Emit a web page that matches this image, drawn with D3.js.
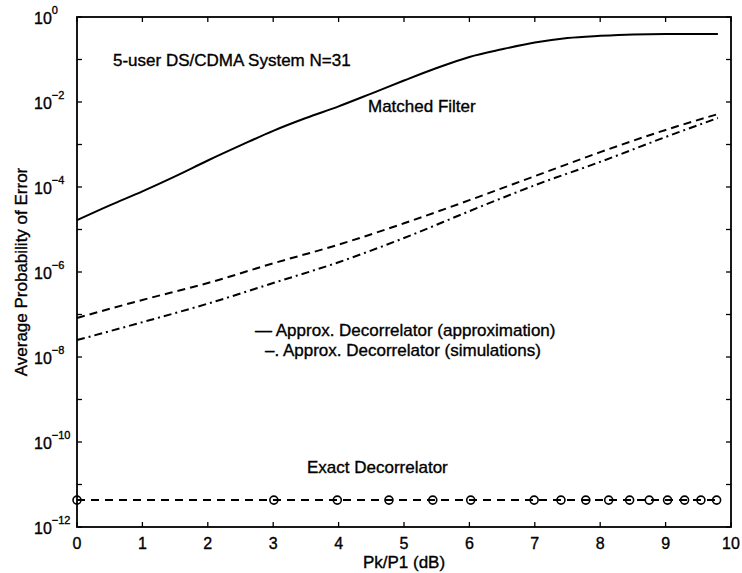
<!DOCTYPE html>
<html>
<head>
<meta charset="utf-8">
<script src="https://cdn.jsdelivr.net/npm/d3@7"></script>
<style>
  html, body { margin: 0; padding: 0; background: #fff; }
  svg text { font-family: "Liberation Sans", Arial, Helvetica, sans-serif; fill: #000; stroke: #000; stroke-width: 0.35px; }
</style>
</head>
<body>
<svg id="chart" width="742" height="573"></svg>
<script>
// ---- data ----
const mfX = [0, 0.5, 1, 1.5, 2, 2.5, 3, 3.5, 4, 4.5, 5, 5.5, 6, 6.5, 7, 7.5, 8, 8.5, 9, 9.5, 9.8];
const mfY = [1.66e-5, 3.7e-5, 7.9e-5, 1.78e-4, 4.2e-4, 9.5e-4, 2.1e-3, 4.2e-3, 7.9e-3, 1.58e-2, 3.2e-2,
             6.3e-2, 0.115, 0.174, 0.25, 0.32, 0.36, 0.39, 0.40, 0.40, 0.40];

const decX = [0, 1, 2, 3, 4, 5, 6, 7, 8, 9, 9.8];
const approxY = [8.3e-8, 2.2e-7, 5.5e-7, 1.6e-6, 4.4e-6, 1.4e-5, 4.9e-5, 1.8e-4, 6.6e-4, 2.2e-3, 5.2e-3];
const simY    = [2.5e-8, 6.6e-8, 1.8e-7, 5.5e-7, 1.7e-6, 6.3e-6, 2.7e-5, 1.1e-4, 3.9e-4, 1.5e-3, 4.2e-3];

const exactX = [0, 3.01, 3.98, 4.77, 5.44, 6.02, 6.99, 7.40, 7.78, 8.13, 8.45, 8.75, 9.03, 9.29, 9.54, 9.78];
const exactY = [4.3e-12, 4.3e-12, 4.3e-12, 4.3e-12, 4.3e-12, 4.3e-12, 4.3e-12, 4.3e-12, 4.3e-12, 4.3e-12,
                4.3e-12, 4.3e-12, 4.3e-12, 4.3e-12, 4.3e-12, 4.3e-12];

const xTicks = [0, 1, 2, 3, 4, 5, 6, 7, 8, 9, 10];
const yTickExps = [0, -1, -2, -3, -4, -5, -6, -7, -8, -9, -10, -11, -12];
const yLabelExps = [0, -2, -4, -6, -8, -10, -12];

const titleText = "5-user DS/CDMA System N=31";
const xLabel = "Pk/P1 (dB)";
const yLabel = "Average Probability of Error";
const mfLabel = "Matched Filter";
const legendLines = ["\u2014 Approx. Decorrelator (approximation)", "\u2013. Approx. Decorrelator (simulations)"];
const exactLabel = "Exact Decorrelator";

// ---- layout ----
const svg = d3.select("#chart");
const L = 77, R = 731, T = 17, B = 527;
const x = d3.scaleLinear().domain([0, 10]).range([L, R]);
const y = d3.scaleLog().domain([1e-12, 1]).range([B, T]);

const g = svg.append("g");

// frame
g.append("rect").attr("x", L).attr("y", T).attr("width", R - L).attr("height", B - T)
  .attr("fill", "none").attr("stroke", "#000").attr("stroke-width", 1.8);

// x ticks (bottom and top, inward)
const tickLen = 5;
xTicks.forEach(v => {
  g.append("line").attr("x1", x(v)).attr("x2", x(v)).attr("y1", B).attr("y2", B - tickLen)
    .attr("stroke", "#000").attr("stroke-width", 1.3);
  g.append("line").attr("x1", x(v)).attr("x2", x(v)).attr("y1", T).attr("y2", T + tickLen)
    .attr("stroke", "#000").attr("stroke-width", 1.3);
  g.append("text").attr("x", x(v)).attr("y", B + 22).attr("text-anchor", "middle")
    .attr("font-size", 16).text(v);
});
// y ticks (left and right, inward)
yTickExps.forEach(e => {
  const yy = y(Math.pow(10, e));
  g.append("line").attr("x1", L).attr("x2", L + tickLen).attr("y1", yy).attr("y2", yy)
    .attr("stroke", "#000").attr("stroke-width", 1.3);
  g.append("line").attr("x1", R).attr("x2", R - tickLen).attr("y1", yy).attr("y2", yy)
    .attr("stroke", "#000").attr("stroke-width", 1.3);
});
yLabelExps.forEach(e => {
  const yy = y(Math.pow(10, e));
  const t = g.append("text").attr("x", 34).attr("y", yy + 7).attr("font-size", 16);
  t.append("tspan").text("10");
  t.append("tspan").attr("dy", -10).attr("font-size", 11).text(String(e).replace("-", "\u2212"));
});

// axis labels
g.append("text").attr("x", x(5)).attr("y", 568).attr("text-anchor", "middle")
  .attr("font-size", 17).text(xLabel);
g.append("text").attr("transform", `translate(27,${(T + B) / 2}) rotate(-90)`)
  .attr("text-anchor", "middle").attr("font-size", 17).text(yLabel);

// curves
const line = d3.line().x(d => x(d[0])).y(d => y(d[1])).curve(d3.curveMonotoneX);
const plot = g.append("g");
plot.append("path").attr("d", line(d3.zip(mfX, mfY)))
  .attr("fill", "none").attr("stroke", "#000").attr("stroke-width", 2);
plot.append("path").attr("d", line(d3.zip(decX, approxY)))
  .attr("fill", "none").attr("stroke", "#000").attr("stroke-width", 2)
  .attr("stroke-dasharray", "8,5");
plot.append("path").attr("d", line(d3.zip(decX, simY)))
  .attr("fill", "none").attr("stroke", "#000").attr("stroke-width", 2)
  .attr("stroke-dasharray", "8,4,2,4");
const exactData = d3.zip(exactX, exactY);
plot.append("path").attr("d", d3.line().x(d => x(d[0])).y(d => y(d[1]))(exactData))
  .attr("fill", "none").attr("stroke", "#000").attr("stroke-width", 2)
  .attr("stroke-dasharray", "8,6");
plot.selectAll("circle.m").data(exactData).enter().append("circle")
  .attr("cx", d => x(d[0])).attr("cy", d => y(d[1])).attr("r", 4)
  .attr("fill", "none").attr("stroke", "#000").attr("stroke-width", 1.6);

// annotations
g.append("text").attr("x", 113).attr("y", 66).attr("font-size", 17).text(titleText);
g.append("text").attr("x", 368).attr("y", 112).attr("font-size", 17).text(mfLabel);
g.append("text").attr("x", 255).attr("y", 336).attr("font-size", 17).text(legendLines[0]);
g.append("text").attr("x", 265).attr("y", 356).attr("font-size", 17).text(legendLines[1]);
g.append("text").attr("x", 307).attr("y", 473).attr("font-size", 17).text(exactLabel);
</script>
</body>
</html>
